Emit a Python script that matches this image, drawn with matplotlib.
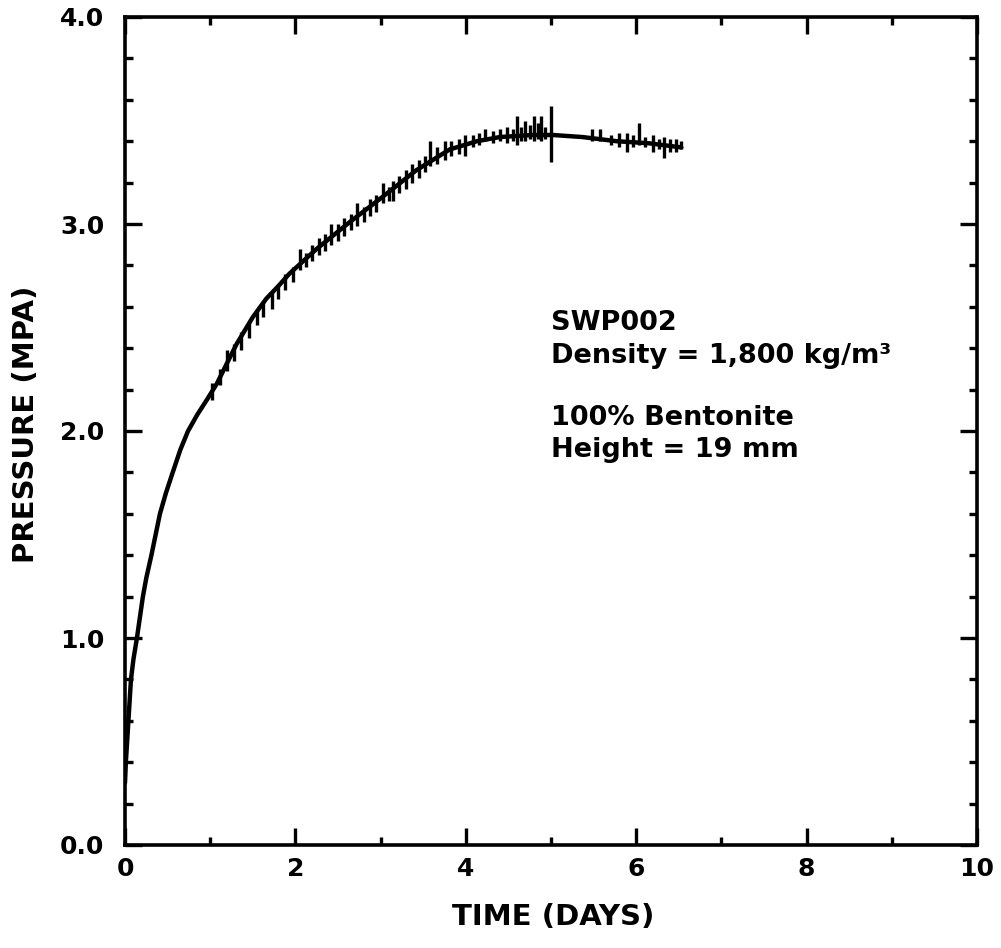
import matplotlib
matplotlib.use("Agg")
import matplotlib.pyplot as plt
from matplotlib.ticker import MultipleLocator, FormatStrFormatter

# ---- data ----
time_days = [0.0, 0.01, 0.04, 0.07, 0.10, 0.14, 0.21, 0.25, 0.31, 0.36, 0.41, 0.48,
             0.56, 0.65, 0.74, 0.85, 0.96, 1.08, 1.20, 1.31, 1.50, 1.66, 1.80, 1.93,
             2.25, 2.64, 3.02, 3.42, 3.81, 4.13, 4.40, 4.78, 5.02, 5.37, 5.77, 6.15,
             6.53]
pressure_mpa = [0.30, 0.40, 0.60, 0.80, 0.90, 1.00, 1.20, 1.29, 1.40, 1.50, 1.60, 1.70,
                1.80, 1.91, 2.00, 2.08, 2.15, 2.23, 2.33, 2.42, 2.55, 2.64, 2.70, 2.76,
                2.88, 3.01, 3.13, 3.26, 3.36, 3.40, 3.42, 3.43, 3.43, 3.42, 3.40, 3.39,
                3.37]

# noise spikes on the measured record: time, low, high
spike_t = [1.02, 1.12, 1.20, 1.28, 1.36, 1.45, 1.55, 1.62, 1.72, 1.80, 1.88, 1.97,
           2.05, 2.13, 2.20, 2.28, 2.35, 2.42, 2.50, 2.57, 2.65, 2.72, 2.80, 2.88,
           2.95, 3.03, 3.10, 3.15, 3.22, 3.30, 3.37, 3.45, 3.52, 3.58, 3.66, 3.75,
           3.83, 3.92, 3.99, 4.08, 4.15, 4.23, 4.32, 4.40, 4.48, 4.55, 4.60, 4.65,
           4.69, 4.75, 4.80, 4.85, 4.88, 4.93, 5.00, 5.48, 5.58, 5.70, 5.80, 5.89,
           5.96, 6.03, 6.10, 6.20, 6.27, 6.33, 6.40, 6.47, 6.52]
spike_lo = [2.15, 2.22, 2.29, 2.34, 2.39, 2.45, 2.51, 2.55, 2.59, 2.64, 2.68, 2.72,
            2.78, 2.79, 2.82, 2.85, 2.87, 2.90, 2.92, 2.94, 2.97, 2.99, 3.01, 3.04,
            3.06, 3.10, 3.11, 3.11, 3.15, 3.17, 3.20, 3.22, 3.25, 3.28, 3.29, 3.31,
            3.33, 3.34, 3.33, 3.37, 3.38, 3.40, 3.39, 3.40, 3.39, 3.40, 3.38, 3.40,
            3.40, 3.41, 3.40, 3.41, 3.40, 3.41, 3.30, 3.40, 3.40, 3.38, 3.37, 3.35,
            3.37, 3.38, 3.37, 3.35, 3.36, 3.32, 3.35, 3.35, 3.36]
spike_hi = [2.23, 2.30, 2.39, 2.42, 2.48, 2.52, 2.58, 2.63, 2.67, 2.71, 2.76, 2.79,
            2.88, 2.86, 2.90, 2.93, 2.95, 3.00, 3.00, 3.03, 3.05, 3.10, 3.08, 3.12,
            3.14, 3.20, 3.18, 3.21, 3.23, 3.26, 3.29, 3.31, 3.33, 3.40, 3.37, 3.40,
            3.40, 3.41, 3.43, 3.43, 3.44, 3.46, 3.45, 3.46, 3.47, 3.46, 3.52, 3.47,
            3.50, 3.48, 3.52, 3.49, 3.52, 3.47, 3.57, 3.46, 3.46, 3.43, 3.44, 3.44,
            3.43, 3.49, 3.42, 3.43, 3.41, 3.42, 3.41, 3.41, 3.40]

x_ticks = [0, 2, 4, 6, 8, 10]
y_ticks = [0.0, 1.0, 2.0, 3.0, 4.0]
x_label = "TIME (DAYS)"
y_label = "PRESSURE (MPA)"
notes = ["SWP002", "Density = 1,800 kg/m\u00b3", "100% Bentonite", "Height = 19 mm"]

plt.rcParams['font.family'] = ['DejaVu Sans']
plt.rcParams['font.weight'] = 'bold'

fig = plt.figure(figsize=(10.01, 9.48), dpi=100)
ax = fig.add_axes([125/1001, 1-845/948, 852/1001, 828/948])

ax.plot(time_days, pressure_mpa, color='black', lw=3.2, solid_capstyle='round',
        solid_joinstyle='round')
ax.vlines(spike_t, spike_lo, spike_hi, color='black', lw=2.4)

ax.set_xlim(0, 10)
ax.set_ylim(0, 4)
ax.set_xticks(x_ticks)
ax.set_yticks(y_ticks)
ax.xaxis.set_minor_locator(MultipleLocator(1))
ax.yaxis.set_minor_locator(MultipleLocator(0.2))
ax.yaxis.set_major_formatter(FormatStrFormatter('%.1f'))

for s in ax.spines.values():
    s.set_linewidth(2.6)
ax.tick_params(which='both', direction='in', top=True, right=True, width=2.4)
ax.tick_params(which='major', length=12, labelsize=18)
ax.tick_params(which='minor', length=6)
ax.tick_params(axis='x', which='major', pad=9)
ax.tick_params(axis='y', which='major', pad=15)
for lab in ax.get_xticklabels() + ax.get_yticklabels():
    lab.set_fontweight('bold')

ax.set_xlabel(x_label, fontsize=21, fontweight='bold')
ax.set_ylabel(y_label, fontsize=21, fontweight='bold')
ax.xaxis.set_label_coords((553-125)/852, (845-903)/828)
ax.yaxis.set_label_coords((40-125)/852, (845-424)/828)

ys = [(845-330)/828, (845-363)/828, (845-425)/828, (845-457)/828]
for t, y in zip(notes, ys):
    ax.text(0.5, y, t, transform=ax.transAxes, fontsize=19.5, fontweight='bold',
            ha='left', va='baseline')

fig.savefig("out.png", dpi=100)
